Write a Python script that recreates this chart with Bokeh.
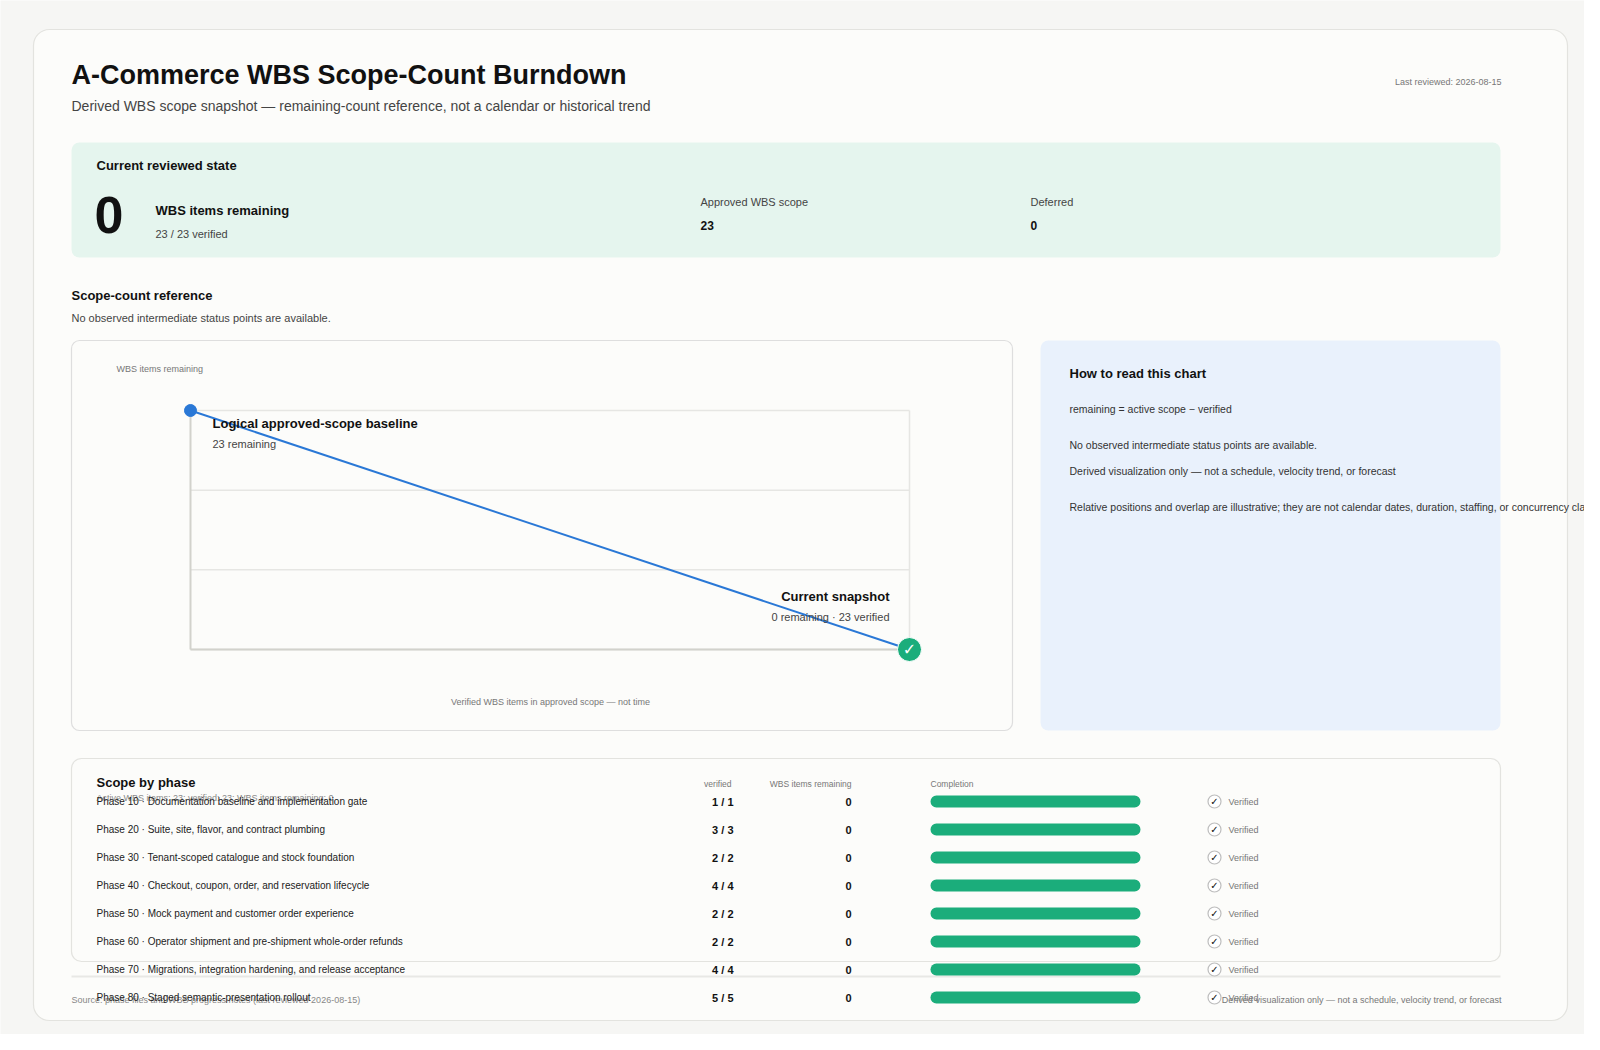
from bokeh.plotting import figure
from bokeh.models import Range1d
from bokeh.core.properties import value
from bokeh.embed import file_html
from bokeh.resources import INLINE

# ---- data ----
approved_scope = 23
verified_total = 23
remaining_total = 0
deferred_total = 0
last_reviewed = "2026-08-15"

# reference points of the scope-count line: verified vs remaining
ref_verified = [0, 23]
ref_remaining = [23, 0]

phase_labels = [
    "Phase 10 · Documentation baseline and implementation gate",
    "Phase 20 · Suite, site, flavor, and contract plumbing",
    "Phase 30 · Tenant-scoped catalogue and stock foundation",
    "Phase 40 · Checkout, coupon, order, and reservation lifecycle",
    "Phase 50 · Mock payment and customer order experience",
    "Phase 60 · Operator shipment and pre-shipment whole-order refunds",
    "Phase 70 · Migrations, integration hardening, and release acceptance",
    "Phase 80 · Staged semantic-presentation rollout",
]
phase_verified = [1, 3, 2, 4, 2, 2, 4, 5]
phase_scope = [1, 3, 2, 4, 2, 2, 4, 5]
phase_remaining = [0, 0, 0, 0, 0, 0, 0, 0]
phase_status = ["Verified"] * 8

FONT = "Liberation Sans"
GREEN = "#1bad7b"
BLUE = "#2a78d6"
W, H = 1584, 1034
HEAD = "13px"
BODY = "11px"
NOTE = "10.5px"


def span_range(v0, v1, px0, px1, lo, hi):
    # a range whose values v0 / v1 land on pixels px0 / px1 of a frame spanning lo..hi
    k = (v1 - v0) / (px1 - px0)
    return Range1d(start=v0 + (lo - px0) * k, end=v0 + (hi - px0) * k)


# one canvas measured in pixels from its top-left corner
p = figure(width=W, height=H, output_backend="svg", toolbar_location=None,
           x_range=Range1d(0, W), y_range=Range1d(H, 0),
           x_axis_location=None, y_axis_location=None, min_border=0)
p.grid.visible = False
p.outline_line_color = None
p.background_fill_color = "#f6f6f4"
p.border_fill_color = "#f6f6f4"

p.extra_x_ranges = {
    "ver": span_range(0, approved_scope, 190, 909, 0, W),
    "pct": span_range(0, 100, 930, 1140, 0, W),
}
p.extra_y_ranges = {
    "rem": span_range(0, approved_scope, 649, 410, H, 0),
    "row": span_range(0, 7, 801, 997, H, 0),
}


def label(x, y, s, size, color="#222", bold=False, align="left", **kw):
    p.text(x=[x], y=[y], text=[s], text_font=value(FONT), text_font_size=size,
           text_color=color, text_font_style="bold" if bold else "normal",
           text_align=align, text_baseline="middle", **kw)


# outer card
p.quad(left=33, right=1567, top=29, bottom=1020, fill_color="#fcfcfa",
       line_color="#e3e3df", line_width=1.2, border_radius=16)

# header
label(71, 74, "A-Commerce WBS Scope-Count Burndown", "27px", "#111", bold=True)
label(71, 105, "Derived WBS scope snapshot — remaining-count reference, not a calendar or historical trend",
      "14px", "#444")
label(1501, 81, "Last reviewed: " + last_reviewed, "9px", "#777", align="right")

# current state panel
p.quad(left=71, right=1500, top=142, bottom=257, fill_color="#e5f5ee", line_color=None,
       border_radius=8)
label(96, 165, "Current reviewed state", HEAD, "#111", bold=True)
label(94, 214, str(remaining_total), "52px", "#111", bold=True)
label(155, 210, "WBS items remaining", HEAD, "#111", bold=True)
label(155, 233, f"{verified_total} / {approved_scope} verified", BODY, "#444")
label(700, 201, "Approved WBS scope", BODY, "#444")
label(700, 225, str(approved_scope), "12px", "#111", bold=True)
label(1030, 201, "Deferred", BODY, "#444")
label(1030, 225, str(deferred_total), "12px", "#111", bold=True)

# section title
label(71, 295, "Scope-count reference", HEAD, "#111", bold=True)
label(71, 317, "No observed intermediate status points are available.", BODY, "#444")

# chart card
p.quad(left=71, right=1012, top=340, bottom=730, fill_color="#fcfcfa",
       line_color="#dedede", line_width=1.2, border_radius=8)
label(116, 368, "WBS items remaining", "9px", "#777")
label(550, 701, "Verified WBS items in approved scope — not time", "9px", "#777", align="center")

grid_vals = [approved_scope * i / 3 for i in range(4)]
p.segment(x0=[0] * 4, x1=[approved_scope] * 4, y0=grid_vals, y1=grid_vals,
          line_color="#e6e6e3", line_width=1.5, x_range_name="ver", y_range_name="rem")
p.segment(x0=[approved_scope], x1=[approved_scope], y0=[0], y1=[approved_scope],
          line_color="#e6e6e3", line_width=1.5, x_range_name="ver", y_range_name="rem")
p.segment(x0=[0, 0], x1=[0, approved_scope], y0=[0, 0], y1=[approved_scope, 0],
          line_color="#d2d2cc", line_width=2, x_range_name="ver", y_range_name="rem")

p.line(ref_verified, ref_remaining, line_color=BLUE, line_width=2,
       x_range_name="ver", y_range_name="rem")
p.scatter(ref_verified[:1], ref_remaining[:1], size=12, color=BLUE,
          x_range_name="ver", y_range_name="rem")
p.scatter(ref_verified[1:], ref_remaining[1:], size=24, fill_color=GREEN,
          line_color="#ffffff", line_width=1, x_range_name="ver", y_range_name="rem")
p.text(x=ref_verified[1:], y=ref_remaining[1:], text=["✓"], text_font=value("DejaVu Sans"),
       text_font_size="16px", text_font_style="bold", text_color="#ffffff",
       text_align="center", text_baseline="middle", x_range_name="ver", y_range_name="rem")

label(ref_verified[0], ref_remaining[0], "Logical approved-scope baseline", HEAD, "#111",
      bold=True, x_offset=22, y_offset=13, x_range_name="ver", y_range_name="rem")
label(ref_verified[0], ref_remaining[0], f"{ref_remaining[0]} remaining", BODY, "#444",
      x_offset=22, y_offset=33, x_range_name="ver", y_range_name="rem")
label(ref_verified[1], ref_remaining[1], "Current snapshot", HEAD, "#111", bold=True,
      align="right", x_offset=-20, y_offset=-53, x_range_name="ver", y_range_name="rem")
label(ref_verified[1], ref_remaining[1],
      f"{ref_remaining[1]} remaining · {ref_verified[1]} verified", BODY, "#444",
      align="right", x_offset=-20, y_offset=-33, x_range_name="ver", y_range_name="rem")

# how-to-read panel
p.quad(left=1040, right=1500, top=340, bottom=730, fill_color="#e9f1fc", line_color=None,
       border_radius=8)
label(1069, 373, "How to read this chart", HEAD, "#111", bold=True)
label(1069, 408, "remaining = active scope − verified", NOTE, "#333")
label(1069, 444, "No observed intermediate status points are available.", NOTE, "#333")
label(1069, 470, "Derived visualization only — not a schedule, velocity trend, or forecast",
      NOTE, "#333")
label(1069, 506, "Relative positions and overlap are illustrative; they are not calendar dates, "
      "duration, staffing, or concurrency claims.", NOTE, "#333")

# phase table card
p.quad(left=71, right=1500, top=758, bottom=961, fill_color="#fcfcfa",
       line_color="#e3e3df", line_width=1.2, border_radius=10)
label(96, 782, "Scope by phase", HEAD, "#111", bold=True)
label(96, 797, f"Active WBS items: {approved_scope}; verified: {verified_total}; "
      f"WBS items remaining: {remaining_total}", "9px", "#888")
label(731, 783, "verified", "8.5px", "#777", align="right")
label(851, 783, "WBS items remaining", "8.5px", "#777", align="right")
label(930, 783, "Completion", "8.5px", "#777")

# footer
p.segment(x0=[71], x1=[1500], y0=[976], y1=[976], line_color="#e8e8e5", line_width=2)
label(71, 999, "Source: phase files and WBS progress notes (last reviewed " + last_reviewed + ")",
      "9px", "#888")
label(1501, 999, "Derived visualization only — not a schedule, velocity trend, or forecast",
      "9px", "#777", align="right")

# table rows
rows = list(range(len(phase_labels)))
pct = [100 * v / s for v, s in zip(phase_verified, phase_scope)]
p.text(x=[96] * 8, y=rows, text=phase_labels, text_font=value(FONT), text_font_size="10px",
       text_color="#222", text_baseline="middle", y_range_name="row")
p.text(x=[733] * 8, y=rows, text=[f"{v} / {s}" for v, s in zip(phase_verified, phase_scope)],
       text_font=value(FONT), text_font_size="11px", text_font_style="bold",
       text_color="#111", text_align="right", text_baseline="middle", y_range_name="row")
p.text(x=[851] * 8, y=rows, text=[str(r) for r in phase_remaining], text_font=value(FONT),
       text_font_size="11px", text_font_style="bold", text_color="#111",
       text_align="right", text_baseline="middle", y_range_name="row")
p.hbar(y=rows, left=0, right=pct, height=0.42, fill_color=GREEN, line_color=None,
       border_radius=6, x_range_name="pct", y_range_name="row")
p.scatter(x=[1214] * 8, y=rows, size=13, fill_color="#ffffff", line_color="#bdbdbd",
          line_width=1.2, y_range_name="row")
p.text(x=[1214] * 8, y=rows, text=["✓"] * 8, text_font=value("DejaVu Sans"),
       text_font_size="10px", text_font_style="bold", text_color="#111",
       text_align="center", text_baseline="middle", y_range_name="row")
p.text(x=[1228] * 8, y=rows, text=phase_status, text_font=value(FONT), text_font_size="9px",
       text_color="#777", text_baseline="middle", y_range_name="row")

open("out.html", "w").write(file_html(p, INLINE))
